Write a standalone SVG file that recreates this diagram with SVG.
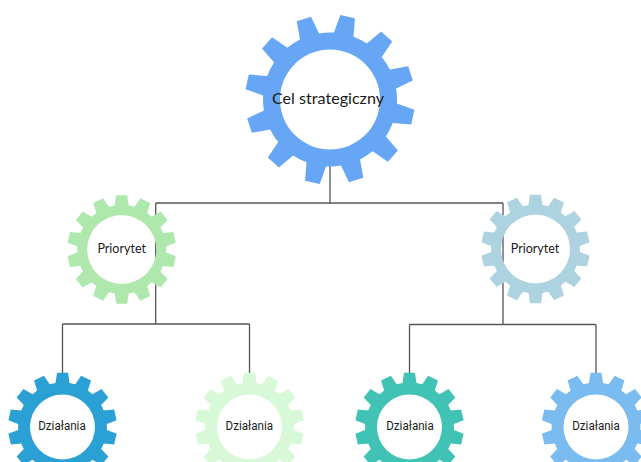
<svg xmlns="http://www.w3.org/2000/svg" xmlns:xlink="http://www.w3.org/1999/xlink" width="641" height="462" viewBox="0 0 641 462">
<style>
.conn{fill:none;stroke:#555555;stroke-width:1.3}
.gear{fill-rule:evenodd}
.lbl{fill:#1a1a1a;text-anchor:middle}
.big{font-family:Lato,"Liberation Sans",sans-serif;font-size:16px}
.pri{font-family:Lato,"Liberation Sans",sans-serif;font-size:12.5px}
.dz{font-family:Roboto,"Liberation Sans",sans-serif;font-size:12px}
</style>
<defs>
<path id="gearBig" class="gear" d="M66.88,4 L84.38,10.27 L81.26,24.94 L62.72,23.55 A67,67 0 0 1 55.92,36.9 L67.94,51.08 L57.9,62.23 L42.55,51.76 A67,67 0 0 1 29.98,59.92 L33.29,78.21 L19.03,82.84 L10.97,66.1 A67,67 0 0 1 -4,66.88 L-10.27,84.38 L-24.94,81.26 L-23.55,62.72 A67,67 0 0 1 -36.9,55.92 L-51.08,67.94 L-62.23,57.9 L-51.76,42.55 A67,67 0 0 1 -59.92,29.98 L-78.21,33.29 L-82.84,19.03 L-66.1,10.97 A67,67 0 0 1 -66.88,-4 L-84.38,-10.27 L-81.26,-24.94 L-62.72,-23.55 A67,67 0 0 1 -55.92,-36.9 L-67.94,-51.08 L-57.9,-62.23 L-42.55,-51.76 A67,67 0 0 1 -29.98,-59.92 L-33.29,-78.21 L-19.03,-82.84 L-10.97,-66.1 A67,67 0 0 1 4,-66.88 L10.27,-84.38 L24.94,-81.26 L23.55,-62.72 A67,67 0 0 1 36.9,-55.92 L51.08,-67.94 L62.23,-57.9 L51.76,-42.55 A67,67 0 0 1 59.92,-29.98 L78.21,-33.29 L82.84,-19.03 L66.1,-10.97 A67,67 0 0 1 66.88,4 Z M50,0 A50,50 0 1 0 -50,0 A50,50 0 1 0 50,0 Z"/>
<path id="gearP" class="gear" d="M-7,-43.95 L-5.5,-54.22 L5.5,-54.22 L7,-43.95 L12.76,-42.63 L18.58,-51.24 L28.48,-46.47 L25.37,-36.56 L30,-32.87 L38.97,-38.1 L45.82,-29.51 L38.72,-21.93 L41.29,-16.61 L51.64,-17.43 L54.09,-6.71 L44.4,-2.96 L44.4,2.96 L54.09,6.71 L51.64,17.43 L41.29,16.61 L38.72,21.93 L45.82,29.51 L38.97,38.1 L30,32.87 L25.37,36.56 L28.48,46.47 L18.58,51.24 L12.76,42.63 L7,43.95 L5.5,54.22 L-5.5,54.22 L-7,43.95 L-12.76,42.63 L-18.58,51.24 L-28.48,46.47 L-25.37,36.56 L-30,32.87 L-38.97,38.1 L-45.82,29.51 L-38.72,21.93 L-41.29,16.61 L-51.64,17.43 L-54.09,6.71 L-44.4,2.96 L-44.4,-2.96 L-54.09,-6.71 L-51.64,-17.43 L-41.29,-16.61 L-38.72,-21.93 L-45.82,-29.51 L-38.97,-38.1 L-30,-32.87 L-25.37,-36.56 L-28.48,-46.47 L-18.58,-51.24 L-12.76,-42.63 Z M34.5,0 A34.5,34.5 0 1 0 -34.5,0 A34.5,34.5 0 1 0 34.5,0 Z"/>
<path id="gearD" class="gear" d="M-7,-43.95 L-5.5,-54.22 L5.5,-54.22 L7,-43.95 L12.76,-42.63 L18.58,-51.24 L28.48,-46.47 L25.37,-36.56 L30,-32.87 L38.97,-38.1 L45.82,-29.51 L38.72,-21.93 L41.29,-16.61 L51.64,-17.43 L54.09,-6.71 L44.4,-2.96 L44.4,2.96 L54.09,6.71 L51.64,17.43 L41.29,16.61 L38.72,21.93 L45.82,29.51 L38.97,38.1 L30,32.87 L25.37,36.56 L28.48,46.47 L18.58,51.24 L12.76,42.63 L7,43.95 L5.5,54.22 L-5.5,54.22 L-7,43.95 L-12.76,42.63 L-18.58,51.24 L-28.48,46.47 L-25.37,36.56 L-30,32.87 L-38.97,38.1 L-45.82,29.51 L-38.72,21.93 L-41.29,16.61 L-51.64,17.43 L-54.09,6.71 L-44.4,2.96 L-44.4,-2.96 L-54.09,-6.71 L-51.64,-17.43 L-41.29,-16.61 L-38.72,-21.93 L-45.82,-29.51 L-38.97,-38.1 L-30,-32.87 L-25.37,-36.56 L-28.48,-46.47 L-18.58,-51.24 L-12.76,-42.63 Z M32.5,0 A32.5,32.5 0 1 0 -32.5,0 A32.5,32.5 0 1 0 32.5,0 Z"/>
</defs>
<g id="connectors">
<path class="conn" d="M330,166 V203 M155.7,203 H503 M155.7,203 V324 M503,203 V324.5 M62.5,324 H249.5 M62.5,324 V380 M249.5,324 V380 M409.5,324.5 H596 M409.5,324.5 V380 M596,324.5 V380"/>
</g>
<g id="node-cel">
<use xlink:href="#gearBig" href="#gearBig" transform="translate(330,99.5)" fill="#67a6f5"/>
<text class="lbl big" x="328" y="103.5" textLength="112" lengthAdjust="spacingAndGlyphs">Cel strategiczny</text>
</g>
<g id="node-priorytet-1">
<use xlink:href="#gearP" href="#gearP" transform="translate(121.7,249.5)" fill="#aee8ad"/>
<text class="lbl pri" x="121.7" y="253.3" textLength="48.5" lengthAdjust="spacingAndGlyphs">Priorytet</text>
</g>
<g id="node-priorytet-2">
<use xlink:href="#gearP" href="#gearP" transform="translate(535.5,249)" fill="#acd3df"/>
<text class="lbl pri" x="535" y="253.3" textLength="48.5" lengthAdjust="spacingAndGlyphs">Priorytet</text>
</g>
<g id="node-dzialania-1">
<use xlink:href="#gearD" href="#gearD" transform="translate(62.5,427)" fill="#2aa0d5"/>
<text class="lbl dz" x="62" y="430" textLength="47.5" lengthAdjust="spacingAndGlyphs">Działania</text>
</g>
<g id="node-dzialania-2">
<use xlink:href="#gearD" href="#gearD" transform="translate(249.5,427)" fill="#d8f9d7"/>
<text class="lbl dz" x="249.3" y="430" textLength="47.5" lengthAdjust="spacingAndGlyphs">Działania</text>
</g>
<g id="node-dzialania-3">
<use xlink:href="#gearD" href="#gearD" transform="translate(409.5,427)" fill="#40c3b5"/>
<text class="lbl dz" x="410" y="430" textLength="47.5" lengthAdjust="spacingAndGlyphs">Działania</text>
</g>
<g id="node-dzialania-4">
<use xlink:href="#gearD" href="#gearD" transform="translate(596,427)" fill="#7bbcf0"/>
<text class="lbl dz" x="596" y="430" textLength="47.5" lengthAdjust="spacingAndGlyphs">Działania</text>
</g>
</svg>
